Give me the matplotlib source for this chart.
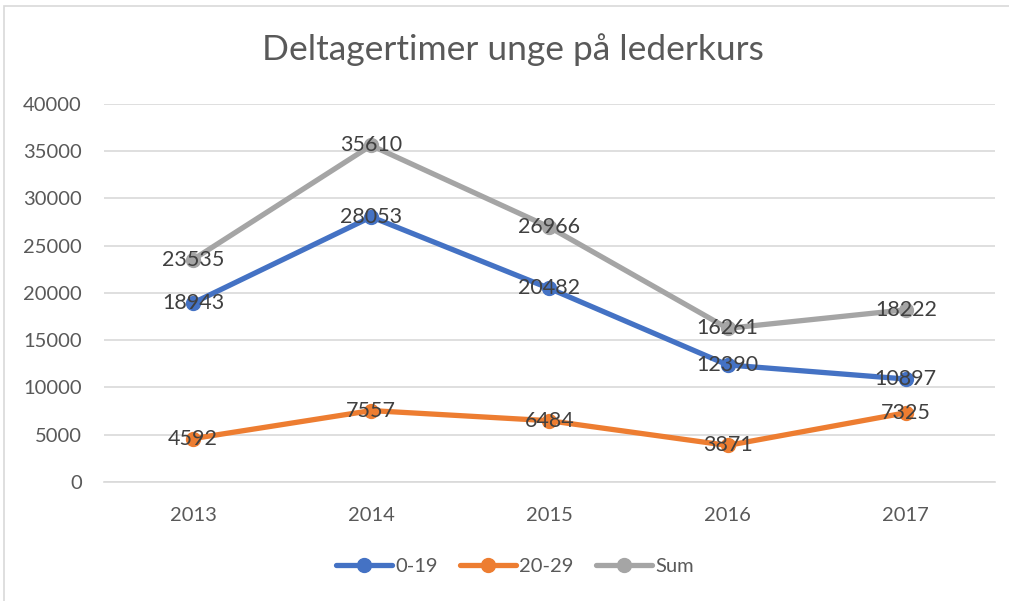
import matplotlib.pyplot as plt
from matplotlib.patches import Rectangle

years = ['2013', '2014', '2015', '2016', '2017']
age_0_19 = [18943, 28053, 20482, 12390, 10897]
age_20_29 = [4592, 7557, 6484, 3871, 7325]
total = [23535, 35610, 26966, 16261, 18222]

series_names = ['0-19', '20-29', 'Sum']
colors = ['#4472C4', '#ED7D31', '#A5A5A5']

plt.rcParams['font.family'] = ['Lato', 'DejaVu Sans']

fig = plt.figure(figsize=(10.09, 6.01), dpi=100)
ax = fig.add_axes([0.103, 0.198, 0.883, 0.629])

# chart border
fig.patches.append(Rectangle((0.004, -0.01), 1.2, 1.0, transform=fig.transFigure,
                             fill=False, edgecolor='#D9D9D9', linewidth=1.2))

x = list(range(len(years)))
for name, vals, c in zip(series_names, [age_0_19, age_20_29, total], colors):
    ax.plot(x, vals, color=c, linewidth=3.8, marker='o', markersize=10,
            solid_capstyle='round', label=name, zorder=3)
    for xi, v in zip(x, vals):
        ax.text(xi, v, str(v), ha='center', va='center', fontsize=15.5,
                color='#404040', zorder=4)

ax.set_xlim(-0.5, 4.5)
ax.set_ylim(0, 40000)
ax.set_yticks(range(0, 40001, 5000))
ax.set_xticks(x)
ax.set_xticklabels(years)
ax.grid(axis='y', color='#D9D9D9', linewidth=1.2)
ax.set_axisbelow(True)
for s in ['top', 'right', 'left']:
    ax.spines[s].set_visible(False)
ax.spines['bottom'].set_color('#D9D9D9')
ax.spines['bottom'].set_linewidth(1.2)
ax.tick_params(axis='both', length=0, labelsize=14.5, labelcolor='#595959')
ax.tick_params(axis='x', pad=18)
ax.tick_params(axis='y', pad=16)

fig.text(0.508, 0.917, 'Deltagertimer unge på lederkurs', ha='center', va='center',
         fontsize=25.5, color='#595959')

fig.legend(loc='center', bbox_to_anchor=(0.51, 0.058), ncol=3, frameon=False,
           fontsize=14.5, labelcolor='#595959', handlelength=2.8, handletextpad=0.15,
           columnspacing=1.1)

fig.savefig('out.png', dpi=100)
